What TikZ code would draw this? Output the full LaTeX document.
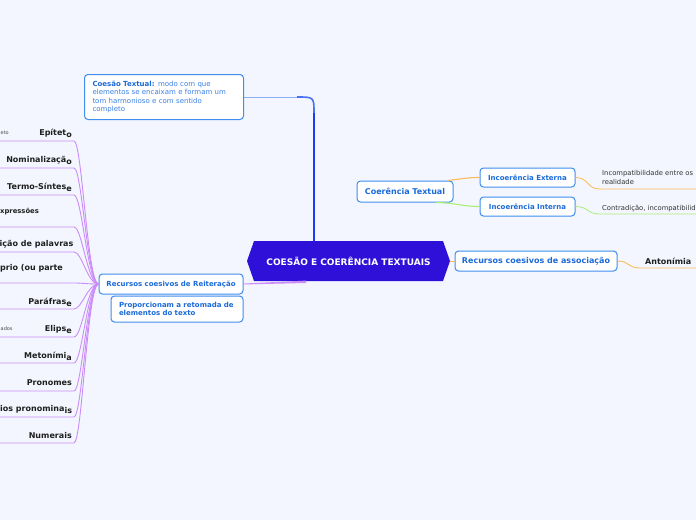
\documentclass[tikz,border=0pt]{standalone}
\usepackage{fontspec}
\setmainfont{DejaVu Sans}
\usetikzlibrary{calc}
\definecolor{bg}{HTML}{F3F6FE}
\definecolor{boxblue}{HTML}{3F8EEE}
\definecolor{txtblue}{HTML}{1B6AD9}
\definecolor{txtblue2}{HTML}{3A80E2}
\definecolor{central}{HTML}{2E10D9}
\definecolor{lil}{HTML}{CB8CF8}
\definecolor{orng}{HTML}{FBBA5A}
\definecolor{grn}{HTML}{A9EE74}
\definecolor{bluedark}{HTML}{1B3CF3}
\definecolor{bluemid}{HTML}{4A72F0}
\definecolor{bluelight}{HTML}{8AB0F2}
\newcommand\lastdrop[1]{\raisebox{-1.4pt}{#1}}
\tikzset{
  topicbox/.style={draw=boxblue, line width=1pt, fill=white, rounded corners=3.5pt,
    text=txtblue, font=\bfseries\fontsize{7}{8.5}\selectfont, inner sep=0pt},
  itemtext/.style={font=\bfseries\fontsize{8}{9.6}\selectfont, text=black!88, inner sep=0pt, anchor=base east},
  leaftext/.style={font=\fontsize{6.8}{8.5}\selectfont, text=black!80, inner sep=0pt, anchor=base west},
  tinytext/.style={font=\fontsize{5}{6}\selectfont, text=black!70, inner sep=0pt, anchor=base west},
  lilline/.style={draw=lil, line width=0.9pt},
}
\begin{document}
\begin{tikzpicture}[x=1pt,y=-1pt]
\useasboundingbox (0,0) rectangle (696,520);
\clip (0,0) rectangle (696,520);
\fill[bg] (0,0) rectangle (696,520);

% central topic
\fill[central] (247,261) -- (254,241) -- (443,241) -- (450,261) -- (443,281) -- (254,281) -- cycle;
\node[font=\bfseries\fontsize{9}{10}\selectfont, text=white, minimum width=203pt, minimum height=40pt, inner sep=0pt] (center) at (348.5,261) {COESÃO E COERÊNCIA TEXTUAIS};

% boxes
\node[topicbox, anchor=north west, text width=143pt, inner xsep=8pt, minimum height=45pt, align=left,
  font=\fontsize{7}{8.5}\selectfont, text=txtblue2] (coesao) at (84,74)
  {\textcolor{txtblue}{\textbf{Coesão Textual:}} modo com que\\elementos se encaixam e formam um\\tom harmonioso e com sentido\\completo};
\node[topicbox, font=\bfseries\fontsize{8}{9.6}\selectfont, minimum width=96pt, minimum height=21pt] (coer) at (405,191.5) {Coerência Textual};
\node[topicbox, minimum width=95pt, minimum height=19pt] (ext) at (527.5,177.5) {Incoerência Externa};
\node[topicbox, minimum width=95pt, minimum height=19pt] (int) at (527.5,206.5) {Incoerência Interna};
\node[topicbox, font=\bfseries\fontsize{8}{9.6}\selectfont, minimum width=162pt, minimum height=20pt] (assoc) at (536,261) {Recursos coesivos de associação};
\node[topicbox, minimum width=144pt, minimum height=20pt] (reit) at (171,284) {Recursos coesivos de Reiteração};
\node[topicbox, minimum width=132pt, minimum height=26pt, text width=116pt, inner xsep=8pt, align=left] (prop) at (177,309) {Proporcionam a retomada de\\elementos do texto};

% leaves on the right
\node[leaftext] (extleafa) at (602,175.3) {Incompatibilidade entre os};
\node[leaftext] (extleafb) at (602,184) {realidade};
\node[leaftext] (intleaf) at (602,210.5) {Contradição, incompatibilid};
\node[itemtext, anchor=base west] (anton) at (645,264) {Antonímia};

% connectors: central
\coordinate (b1) at (297,97);
\coordinate (b2) at (314,113);
\draw[bluelight, line width=0.9pt] (coesao.east) -- (b1);
\draw[bluemid, line width=1.6pt] (b1) .. controls (314,97) .. (b2);
\draw[bluedark, line width=2.4pt] (b2) -- (b2 |- center.north);
\draw[orng, line width=1pt] (center.east) -- (assoc.west);
\coordinate (pc) at ($(center.south)+(-42.5,0)$);
\fill[lil] ($(reit.east)+(0,-0.45)$) -- ($(pc)+(0,-0.6)$) -- ($(pc)+(0,1.8)$) -- ($(reit.east)+(0,0.45)$) -- cycle;

% coerencia branches
\draw[orng, line width=1.1pt] ($(coer.north east)+(-6,0)$) .. controls (462,179) and (466,177.5) .. (ext.west);
\draw[grn, line width=1.1pt] ($(coer.south east)+(-18,0)$) .. controls (458,203) and (462,206.5) .. (int.west);
\coordinate (eb) at (600,189);
\coordinate (ee) at (697,189);
\draw[orng, line width=0.8pt] (ext.east) .. controls (590,178) and (586,189) .. (eb) -- (ee);
\coordinate (ib) at (600,214);
\coordinate (ie) at (697,214);
\draw[grn, line width=0.8pt] (int.east) .. controls (590,207) and (586,214) .. (ib) -- (ie);
\coordinate (ab) at (640,268);
\coordinate (ae) at (697,268);
\draw[orng, line width=0.9pt] (assoc.east) .. controls (630,261) and (627,268) .. (ab) -- (ae);

% reiteracao items
\node[itemtext] (i1) at (72,135.8) {Epítet\lastdrop{o}};
\node[itemtext] (i2) at (72,162.8) {Nominalizaçã\lastdrop{o}};
\node[itemtext] (i3) at (72,189.8) {Termo-Síntes\lastdrop{e}};
\node[itemtext, anchor=base west, font=\bfseries\fontsize{6.8}{8.2}\selectfont] (i4) at (0,213.5) {xpressões};
\node[itemtext, anchor=base west] (i5) at (-0.5,246) {ição de palavras};
\node[itemtext, anchor=base west] (i6) at (0,270.8) {prio (ou parte};
\node[itemtext] (i7) at (72,304.8) {Paráfras\lastdrop{e}};
\node[itemtext] (i8) at (72,331.8) {Elips\lastdrop{e}};
\node[itemtext] (i9) at (72,358.8) {Metoními\lastdrop{a}};
\node[itemtext] (i10) at (72,385.8) {Pronomes};
\node[itemtext, anchor=base west] (i11) at (0,411.8) {ios pronomina\lastdrop{is}};
\node[itemtext] (i12) at (72,438.8) {Numerais};
\node[tinytext] (t1) at (0.5,134) {eto};
\node[tinytext] (t2) at (0.5,330) {ados};

\foreach \yu [count=\k] in {141,168,195,227,252,283,309,337,363,391,417,443}{
  \coordinate (u\k) at (-2,\yu);
  \coordinate (v\k) at (74,\yu);
  \draw[lilline] (u\k) -- (v\k) .. controls ($(v\k)+(8,0)$) and ($(reit.west)+(-11,0)$) .. (reit.west);
}
\end{tikzpicture}
\end{document}
